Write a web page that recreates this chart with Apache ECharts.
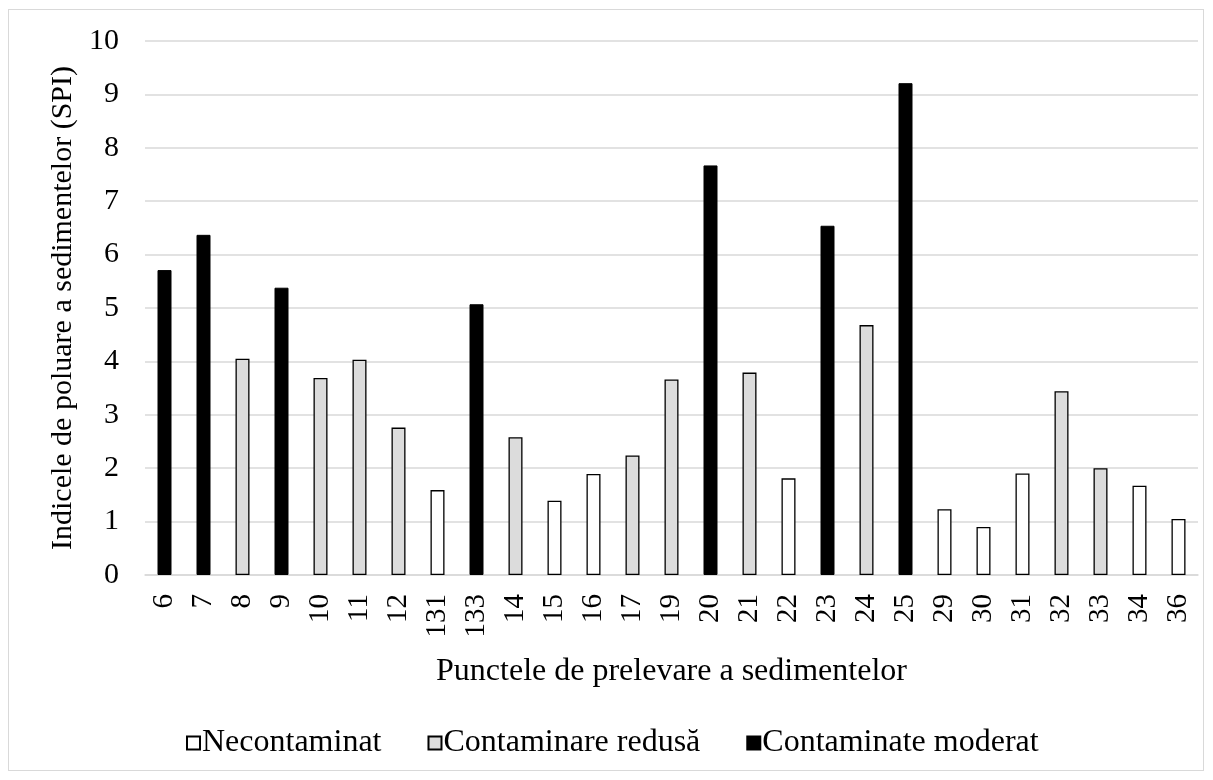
<!DOCTYPE html>
<html><head><meta charset="utf-8">
<script src="https://cdn.jsdelivr.net/npm/echarts@6/dist/echarts.min.js"></script>
<style>
html,body{margin:0;padding:0;background:#fff;}
#wrap{position:absolute;left:8px;top:9px;width:1196px;height:762px;border:1px solid #d9d9d9;box-sizing:border-box;}
#c{position:absolute;left:0;top:0;width:1213px;height:780px;}
</style></head>
<body>
<div id="wrap"></div>
<div id="c"></div>
<script>
const categories = ['6','7','8','9','10','11','12','131','133','14','15','16','17','19','20','21','22','23','24','25','29','30','31','32','33','34','36'];
const spi = [5.71,6.37,4.05,5.38,3.69,4.03,2.76,1.59,5.07,2.58,1.39,1.89,2.24,3.66,7.67,3.79,1.81,6.54,4.68,9.21,1.23,0.90,1.90,3.44,2.00,1.67,1.05];
const cls = ['M','M','R','M','R','R','R','N','M','R','N','N','R','R','M','R','N','M','R','M','N','N','N','R','R','N','N'];
const seriesNames = ['Necontaminat','Contaminare redusă','Contaminate moderat'];
const yTicks = [0,1,2,3,4,5,6,7,8,9,10];

function pick(code){ return spi.map((v,i)=> cls[i]===code ? v : '-'); }
const font = '"Liberation Serif","Times New Roman",serif';
const chart = echarts.init(document.getElementById('c'), null, {renderer:'canvas'});
chart.setOption({
  animation:false,
  textStyle:{fontFamily:font,color:'#000'},
  grid:{left:145,right:15,top:41,bottom:205,containLabel:false},
  legend:{
    top:727,left:186,padding:0,
    itemWidth:13,itemHeight:13,itemGap:46,
    icon:'rect',
    textStyle:{fontFamily:font,fontSize:32,color:'#000',padding:[0,0,0,-3]},
    data:seriesNames
  },
  xAxis:{
    type:'category',data:categories,
    name:'Punctele de prelevare a sedimentelor',
    nameLocation:'middle',nameGap:81,
    nameTextStyle:{fontFamily:font,fontSize:32,color:'#000'},
    axisLine:{lineStyle:{color:'#d9d9d9',width:1.5}},
    axisTick:{show:false},
    axisLabel:{rotate:90,fontFamily:font,fontSize:29,color:'#000',margin:19,interval:0}
  },
  yAxis:{
    type:'value',min:0,max:10,interval:1,
    name:'Indicele de poluare a sedimentelor (SPI)',
    nameLocation:'middle',nameGap:58,nameRotate:90,
    nameTextStyle:{fontFamily:font,fontSize:30,color:'#000'},
    axisLine:{show:false},axisTick:{show:false},
    axisLabel:{fontFamily:font,fontSize:30,color:'#000',margin:26,
      formatter:v=> yTicks.includes(v)? String(v):''},
    splitLine:{lineStyle:{color:'#d9d9d9',width:1.5}}
  },
  series:[
    {name:seriesNames[0],type:'bar',stack:'s',barWidth:14,data:pick('N'),
     itemStyle:{color:'#ffffff',borderColor:'#000',borderWidth:1.3}},
    {name:seriesNames[1],type:'bar',stack:'s',barWidth:14,data:pick('R'),
     itemStyle:{color:'#dcdcdc',borderColor:'#000',borderWidth:1.3}},
    {name:seriesNames[2],type:'bar',stack:'s',barWidth:14,data:pick('M'),
     itemStyle:{color:'#000000',borderColor:'#000',borderWidth:1}}
  ]
});
</script>
</body></html>
